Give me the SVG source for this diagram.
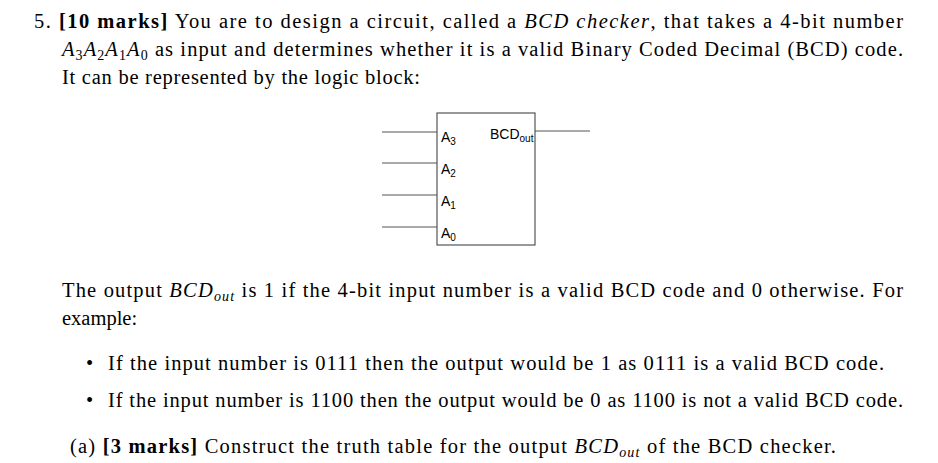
<svg xmlns="http://www.w3.org/2000/svg" width="938" height="463" viewBox="0 0 938 463">
<style>
.t{font-family:"Liberation Serif",serif;font-size:20.5px;fill:#000}
.c{font-family:"Liberation Sans",sans-serif;font-size:14px;fill:#000}
.w{stroke:#555;stroke-width:1.2;fill:none}
</style>
<rect width="938" height="463" fill="#fff"/>
<text class="t" x="34" y="28" textLength="869" lengthAdjust="spacing">5. <tspan font-weight="bold">[10 marks]</tspan> You are to design a circuit, called a <tspan font-style="italic">BCD checker</tspan>, that takes a 4-bit number</text>
<text class="t" x="62" y="56" textLength="841" lengthAdjust="spacing"><tspan font-style="italic">A</tspan><tspan font-size="14" dy="4">3</tspan><tspan font-style="italic" dy="-4">A</tspan><tspan font-size="14" dy="4">2</tspan><tspan font-style="italic" dy="-4">A</tspan><tspan font-size="14" dy="4">1</tspan><tspan font-style="italic" dy="-4">A</tspan><tspan font-size="14" dy="4">0</tspan><tspan dy="-4"> as input and determines whether it is a valid Binary Coded Decimal (BCD) code.</tspan></text>
<text class="t" x="62" y="84" textLength="358" lengthAdjust="spacing">It can be represented by the logic block:</text>
<g id="block">
<rect x="437" y="113" width="98" height="132" fill="#fff" stroke="#555" stroke-width="1.2"/>
<text class="c" x="441" y="142">A<tspan font-size="10" dy="3">3</tspan></text>
<text class="c" x="441" y="174">A<tspan font-size="10" dy="3">2</tspan></text>
<text class="c" x="441" y="206">A<tspan font-size="10" dy="3">1</tspan></text>
<text class="c" x="441" y="238">A<tspan font-size="10" dy="3">0</tspan></text>
<text class="c" x="490" y="139">BCD<tspan font-size="10" dy="3">out</tspan></text>
</g>
<g id="connectors">
<line class="w" x1="382" y1="132" x2="437" y2="132"/>
<line class="w" x1="382" y1="163" x2="437" y2="163"/>
<line class="w" x1="382" y1="195" x2="437" y2="195"/>
<line class="w" x1="382" y1="227" x2="437" y2="227"/>
<line class="w" x1="535" y1="131" x2="590" y2="131"/>
</g>
<text class="t" x="62" y="297" textLength="841" lengthAdjust="spacing">The output <tspan font-style="italic">BCD</tspan><tspan font-style="italic" font-size="14" dy="4">out</tspan><tspan dy="-4"> is 1 if the 4-bit input number is a valid BCD code and 0 otherwise. For</tspan></text>
<text class="t" x="62" y="325">example:</text>
<text class="t" x="86" y="370">•</text>
<text class="t" x="108" y="370" textLength="776" lengthAdjust="spacing">If the input number is 0111 then the output would be 1 as 0111 is a valid BCD code.</text>
<text class="t" x="86" y="407">•</text>
<text class="t" x="108" y="407" textLength="795" lengthAdjust="spacing">If the input number is 1100 then the output would be 0 as 1100 is not a valid BCD code.</text>
<text class="t" x="70" y="453" textLength="766" lengthAdjust="spacing">(a) <tspan font-weight="bold">[3 marks]</tspan> Construct the truth table for the output <tspan font-style="italic">BCD</tspan><tspan font-style="italic" font-size="14" dy="4">out</tspan><tspan dy="-4"> of the BCD checker.</tspan></text>
</svg>
